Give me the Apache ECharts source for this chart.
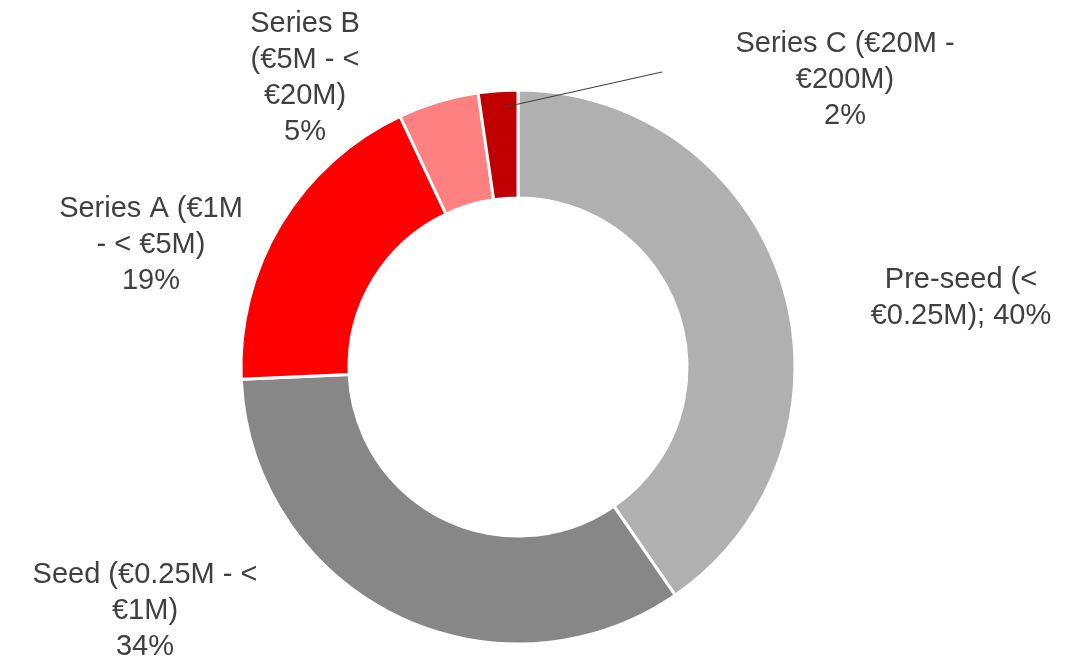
<!DOCTYPE html>
<html>
<head>
<meta charset="utf-8">
<script src="https://cdn.jsdelivr.net/npm/echarts@6/dist/echarts.min.js"></script>
<style>
  html, body { margin: 0; padding: 0; background: #fff; }
  #chart { width: 1081px; height: 661px; }
</style>
</head>
<body>
<div id="chart"></div>
<script>
// funding stages, clockwise from 12 o'clock
const stages = ["Pre-seed", "Seed", "Series A", "Series B", "Series C"];
const shares = [40.4, 33.9, 18.7, 4.7, 2.3];
const labelTexts = [
    "Pre-seed (<\n€0.25M); 40%",
    "Seed (€0.25M - <\n€1M)\n34%",
    "Series A (€1M\n- < €5M)\n19%",
    "Series B\n(€5M - <\n€20M)\n5%",
    "Series C (€20M -\n€200M)\n2%",
];
const colors = ["#b0b0b0", "#878787", "#ff0000", "#ff8080", "#c00000"];

// label block centres (layout only)
const labelPos = [[961, 298], [145, 611], [151, 245], [305, 78], [845, 80]];

const chart = echarts.init(document.getElementById("chart"), null, { renderer: "canvas" });

const pieBase = {
    type: "pie",
    center: [518, 367],
    radius: [169, 277],
    startAngle: 90,
    clockwise: true,
};

chart.setOption({
    backgroundColor: "#ffffff",
    animation: false,
    series: [
        {
            ...pieBase,
            z: 2,
            itemStyle: { borderColor: "#ffffff", borderWidth: 3 },
            label: { show: false },
            labelLine: { show: false },
            data: stages.map((name, i) => ({
                name,
                value: shares[i],
                itemStyle: { color: colors[i] },
            })),
        },
        {
            // transparent copy that carries the labels above the ring
            ...pieBase,
            z: 5,
            silent: true,
            itemStyle: { color: "rgba(0,0,0,0)", borderWidth: 0 },
            label: {
                show: true,
                position: "outside",
                formatter: (p) => labelTexts[p.dataIndex],
                color: "#404040",
                fontFamily: "'Liberation Sans', Arial, sans-serif",
                fontSize: 29,
                lineHeight: 36,
                align: "center",
            },
            labelLine: { show: false },
            labelLayout: (params) => {
                const i = params.dataIndex;
                const out = {
                    x: labelPos[i][0],
                    y: labelPos[i][1],
                    align: "center",
                    verticalAlign: "middle",
                };
                if (i === 4) {
                    out.labelLinePoints = [[505, 107], [662, 72], [662, 72]];
                }
                return out;
            },
            data: stages.map((name, i) => ({
                name,
                value: shares[i],
                labelLine: i === 4
                    ? { show: true, lineStyle: { color: "#404040", width: 1.2 } }
                    : { show: false },
            })),
        },
    ],
});
</script>
</body>
</html>
